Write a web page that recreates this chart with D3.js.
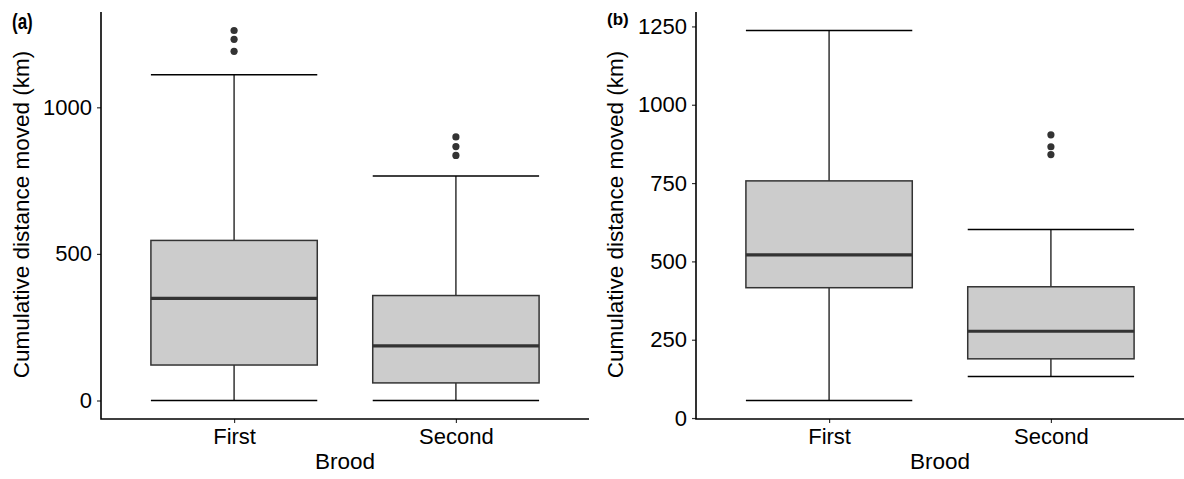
<!DOCTYPE html>
<html>
<head>
<meta charset="utf-8">
<script src="https://cdn.jsdelivr.net/npm/d3@7"></script>
<style>
  html, body { margin: 0; padding: 0; background: #fff; }
  svg { display: block; font-family: "Liberation Sans", Arial, sans-serif; }
</style>
</head>
<body>
<svg id="chart" width="1184" height="479"></svg>
<script>
// Brood categories shared by both panels
const broods = ["First", "Second"];

// Panel (a): box-plot summaries per brood (km)
const lowA = [0, 0];
const q1A = [121, 60];
const medA = [348, 186];
const q3A = [546, 358];
const highA = [1111, 766];
const outA = [[1191, 1232, 1262], [836, 866, 899]];
const ticksA = [0, 500, 1000];

// Panel (b): box-plot summaries per brood (km)
const lowB = [56, 133];
const q1B = [416, 189];
const medB = [521, 277];
const q3B = [757, 419];
const highB = [1237, 602];
const outB = [[], [841, 866, 904]];
const ticksB = [0, 250, 500, 750, 1000, 1250];

const svg = d3.select("#chart");

function panel(opts) {
  const { left, right, top, bottom, label, labelPos, labelScale, titleX,
          low, q1, med, q3, high, out, ticks } = opts;
  const g = svg.append("g");

  // x: discrete scale with 0.6 unit padding on each side
  const x = d3.scalePoint().domain(broods).range([left, right]).padding(0.6);
  const boxW = x.step() * 0.75;

  // y: continuous scale expanded by 5% of the data range
  const all = [].concat(low, high, ...out);
  const lo = d3.min(all), hi = d3.max(all);
  const pad = (hi - lo) * 0.05;
  const y = d3.scaleLinear().domain([lo - pad, hi + pad]).range([bottom, top]);

  const rows = broods.map((b, i) => ({ b, low: low[i], q1: q1[i], med: med[i], q3: q3[i], high: high[i], out: out[i] }));
  const ink = "#333333";

  const bx = g.selectAll("g.box").data(rows).join("g").attr("class", "box");

  // whisker stems
  bx.append("line")
    .attr("x1", d => x(d.b)).attr("x2", d => x(d.b))
    .attr("y1", d => y(d.high)).attr("y2", d => y(d.q3))
    .attr("stroke", ink).attr("stroke-width", 1.5);
  bx.append("line")
    .attr("x1", d => x(d.b)).attr("x2", d => x(d.b))
    .attr("y1", d => y(d.q1)).attr("y2", d => y(d.low))
    .attr("stroke", ink).attr("stroke-width", 1.5);
  // whisker caps
  ["high", "low"].forEach(k => {
    bx.append("line")
      .attr("x1", d => x(d.b) - boxW / 2).attr("x2", d => x(d.b) + boxW / 2)
      .attr("y1", d => y(d[k])).attr("y2", d => y(d[k]))
      .attr("stroke", "#000").attr("stroke-width", 1.5);
  });
  // boxes
  bx.append("rect")
    .attr("x", d => x(d.b) - boxW / 2).attr("width", boxW)
    .attr("y", d => y(d.q3)).attr("height", d => y(d.q1) - y(d.q3))
    .attr("fill", "#cccccc").attr("stroke", ink).attr("stroke-width", 1.5);
  // medians
  bx.append("line")
    .attr("x1", d => x(d.b) - boxW / 2).attr("x2", d => x(d.b) + boxW / 2)
    .attr("y1", d => y(d.med)).attr("y2", d => y(d.med))
    .attr("stroke", ink).attr("stroke-width", 3.2);
  // outliers
  bx.selectAll("circle").data(d => d.out.map(v => ({ b: d.b, v }))).join("circle")
    .attr("cx", d => x(d.b)).attr("cy", d => y(d.v)).attr("r", 3.6)
    .attr("fill", ink);

  // axes
  const yAxis = g.append("g").attr("transform", `translate(${left},0)`)
    .call(d3.axisLeft(y).tickValues(ticks).tickSize(4).tickPadding(5).tickFormat(d3.format("d")));
  const xAxis = g.append("g").attr("transform", `translate(0,${bottom})`)
    .call(d3.axisBottom(x).tickSize(4).tickPadding(5));
  [yAxis, xAxis].forEach(a => {
    a.select(".domain").remove();
    a.selectAll(".tick line").attr("stroke", "#333").attr("stroke-width", 1.2);
    a.selectAll(".tick text").attr("fill", "#000").style("font-size", "22px")
      .style("font-family", "'Liberation Sans', Arial, sans-serif");
  });
  // axis lines (classic theme)
  g.append("path")
    .attr("d", `M${left},${top}V${bottom}H${right}`)
    .attr("fill", "none").attr("stroke", "#000").attr("stroke-width", 1.6);

  // titles
  g.append("text")
    .attr("x", (left + right) / 2).attr("y", 469)
    .attr("text-anchor", "middle").style("font-size", "22.5px").attr("fill", "#000")
    .text("Brood");
  g.append("text")
    .attr("transform", `translate(${titleX},${(top + bottom) / 2 - 1}) rotate(-90)`)
    .attr("text-anchor", "middle").style("font-size", "22.5px").attr("fill", "#000")
    .text("Cumulative distance moved (km)");

  // panel tag
  g.append("text")
    .attr("transform", `translate(${labelPos[0]},${labelPos[1]}) scale(${labelScale[0]},${labelScale[1]})`)
    .style("font-size", "17px").style("font-weight", "bold").attr("fill", "#000")
    .text(label);
}

panel({ left: 101, right: 589, top: 12, bottom: 419, label: "(a)", labelPos: [12, 28.5], labelScale: [1, 1.25],
  titleX: 29, low: lowA, q1: q1A, med: medA, q3: q3A, high: highA, out: outA, ticks: ticksA });
panel({ left: 696, right: 1184, top: 12, bottom: 419, label: "(b)", labelPos: [607, 24.5], labelScale: [1, 1],
  titleX: 622.5, low: lowB, q1: q1B, med: medB, q3: q3B, high: highB, out: outB, ticks: ticksB });
</script>
</body>
</html>
